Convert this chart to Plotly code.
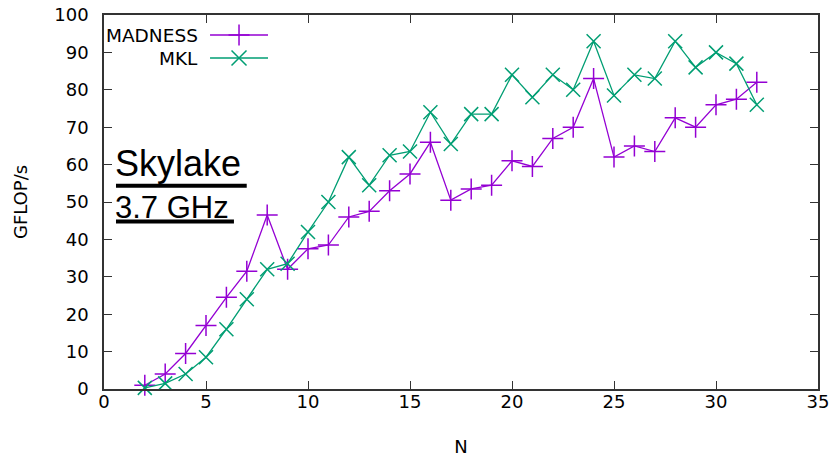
import plotly.graph_objects as go

N = list(range(2, 33))
madness = [1, 4, 9.5, 17, 24.5, 31.5, 46.5, 32, 37.5, 38.5, 46, 47.5, 53, 57.5, 66,
           50.5, 53.5, 54.5, 61, 59.5, 67, 70, 83, 62, 65, 63.5, 72.5, 70, 76, 77.5, 82]
mkl = [0.3, 1.5, 4, 8.5, 16, 24, 32, 33.5, 42, 50, 62, 54.5, 62.5, 63.5, 74,
       65.5, 73.5, 73.5, 84, 78, 84, 80, 93, 78.5, 84, 83, 93, 86, 90, 87, 76]
series_names = ["MADNESS", "MKL"]
x_ticks = [0, 5, 10, 15, 20, 25, 30, 35]
y_ticks = [0, 10, 20, 30, 40, 50, 60, 70, 80, 90, 100]

PURPLE = "#9400d3"
GREEN = "#009e73"
FONT = "DejaVu Sans"

fig = go.Figure()
fig.add_trace(go.Scatter(
    x=N, y=madness, mode="lines+markers", name=series_names[0],
    line=dict(color=PURPLE, width=1.3),
    marker=dict(symbol="cross-thin", size=15, line=dict(color=PURPLE, width=1.5)),
    showlegend=False, cliponaxis=False))
fig.add_trace(go.Scatter(
    x=N, y=mkl, mode="lines+markers", name=series_names[1],
    line=dict(color=GREEN, width=1.3),
    marker=dict(symbol="x-thin", size=14, line=dict(color=GREEN, width=1.5)),
    showlegend=False, cliponaxis=False))

# gnuplot-style legend (text left of key sample)
legend_y = [0.9465, 0.885]
colors = [PURPLE, GREEN]
symbols = ["cross-thin", "x-thin"]
for name, ly, c, s in zip(series_names, legend_y, colors, symbols):
    fig.add_trace(go.Scatter(x=[0, 1], y=[ly, ly], mode="lines", xaxis="x2", yaxis="y2",
                             line=dict(color=c, width=1.3), showlegend=False, hoverinfo="skip"))
    fig.add_trace(go.Scatter(x=[0.5], y=[ly], mode="markers", xaxis="x2", yaxis="y2",
                             marker=dict(symbol=s, size=15, line=dict(color=c, width=1.5)),
                             showlegend=False, hoverinfo="skip"))
    fig.add_annotation(text=name, xref="paper", yref="paper", x=0.1345, y=ly,
                       xanchor="right", yanchor="middle", showarrow=False,
                       font=dict(family=FONT, size=18.5, color="black"))

fig.add_annotation(text="Skylake", xref="paper", yref="paper", x=0.013, y=0.5435,
                   xanchor="left", yanchor="bottom", showarrow=False,
                   font=dict(family="Liberation Sans", size=36, color="black"))
fig.add_annotation(text="3.7 GHz", xref="paper", yref="paper", x=0.013, y=0.434,
                   xanchor="left", yanchor="bottom", showarrow=False,
                   font=dict(family="Liberation Sans", size=31, color="black"))
# thick underlines below the annotation text
fig.add_shape(type="line", xref="paper", yref="paper", x0=0.0168, x1=0.1999, y0=0.5435, y1=0.5435,
              line=dict(color="black", width=4))
fig.add_shape(type="line", xref="paper", yref="paper", x0=0.0168, x1=0.182, y0=0.448, y1=0.448,
              line=dict(color="black", width=4))

axis_common = dict(showline=True, linecolor="#333333", linewidth=1.5, mirror="ticks",
                   ticks="inside", ticklen=8, tickwidth=1, tickcolor="#333333",
                   showgrid=False, zeroline=False, automargin=False,
                   tickfont=dict(family=FONT, size=18, color="black"))

fig.update_layout(
    width=836, height=457,
    margin=dict(l=104, r=18, t=15, b=68),
    paper_bgcolor="white", plot_bgcolor="rgba(0,0,0,0)",
    xaxis=dict(range=[0, 35], tickvals=x_ticks,
               title=dict(text="N", font=dict(family=FONT, size=18, color="black"), standoff=29),
               ticklabelstandoff=-4, **axis_common),
    yaxis=dict(range=[0, 100], tickvals=y_ticks,
               title=dict(text="GFLOP/s", font=dict(family=FONT, size=18, color="black"), standoff=22),
               ticklabelstandoff=10, **axis_common),
    xaxis2=dict(domain=[0.1485, 0.2297], range=[0, 1], visible=False, anchor="y2"),
    yaxis2=dict(domain=[0, 1], range=[0, 1], visible=False, anchor="x2", overlaying="y"),
)

fig.write_html("out.html")
